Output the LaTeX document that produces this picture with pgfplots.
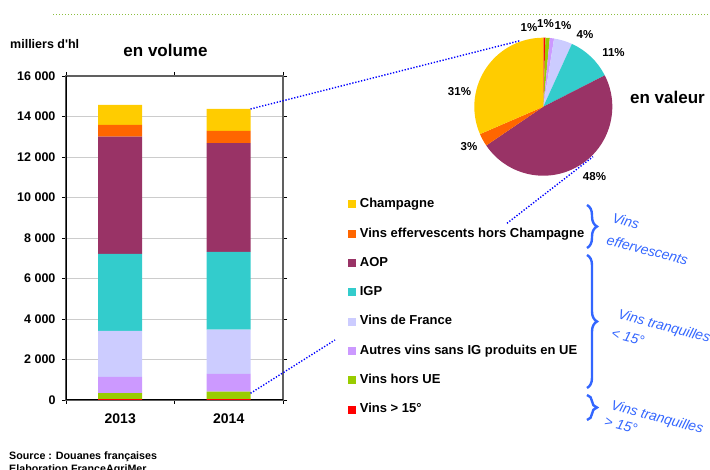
\documentclass[border=0pt]{standalone}
\usepackage{pgfplots}
\pgfplotsset{compat=1.18}
\usepackage{fontspec}
\setmainfont{Liberation Sans}
\usetikzlibrary{decorations.pathreplacing}
\definecolor{cChamp}{HTML}{FFCC00}
\definecolor{cEff}{HTML}{FF6600}
\definecolor{cAOP}{HTML}{993366}
\definecolor{cIGP}{HTML}{33CCCC}
\definecolor{cVdF}{HTML}{CCCCFF}
\definecolor{cAutres}{HTML}{CC99FF}
\definecolor{cHors}{HTML}{99CC00}
\definecolor{cQuinze}{HTML}{FF0000}
\definecolor{cBrace}{HTML}{3366FF}
\definecolor{cTopLine}{HTML}{8CBF3F}
\begin{document}
\begin{tikzpicture}[x=1pt,y=1pt]
\path[use as bounding box] (0,0) rectangle (710,470);
\draw[cTopLine, line width=1pt, dash pattern=on 1pt off 2pt] (53,455.3) -- (710,455.3);

\begin{axis}[
  at={(66pt,70pt)}, anchor=south west,
  scale only axis, width=217pt, height=324pt,
  xmin=-0.5, xmax=1.5, ymin=0, ymax=16000,
  ybar stacked, bar width=44pt,
  xtick={-0.5,0.5,1.5}, xticklabels={2013,2014}, x tick label as interval,
  ytick={0,2000,...,16000}, scaled y ticks=false,
  ymajorgrids, grid style={gray!40, line width=0.9pt},
  axis line style={draw=gray!75!black, line width=1.6pt},
  tick align=outside, major tick length=4pt,
  tick style={black, line width=0.9pt},
  /pgf/number format/.cd, 1000 sep={\ }, assume math mode=true, /pgfplots/.cd,
  yticklabel style={font=\bfseries\fontsize{12.5}{14}\selectfont, xshift=-3pt},
  xticklabel style={font=\bfseries\fontsize{14}{16}\selectfont, yshift=-6pt},
  reverse legend,
  legend cell align=left,
  legend style={at={(1.298,0.6265)}, anchor=north west, draw=none, fill=none,
    font=\bfseries\fontsize{13}{15}\selectfont, row sep=14.8pt, inner sep=0pt,
    nodes={inner sep=1pt, text height=9.5pt, text depth=3pt},
    /tikz/every odd column/.append style={column sep=3pt}},
  legend image code/.code={\fill[#1] (0pt,-4pt) rectangle (8pt,4pt);},
]
\addplot[fill=cQuinze, draw=none] coordinates {(0,40) (1,40)};
\addlegendentry{Vins > 15°}
\addplot[fill=cHors, draw=none] coordinates {(0,300) (1,370)};
\addlegendentry{Vins hors UE}
\addplot[fill=cAutres, draw=none] coordinates {(0,800) (1,875)};
\addlegendentry{Autres vins sans IG produits en UE}
\addplot[fill=cVdF, draw=none] coordinates {(0,2270) (1,2190)};
\addlegendentry{Vins de France}
\addplot[fill=cIGP, draw=none] coordinates {(0,3800) (1,3835)};
\addlegendentry{IGP}
\addplot[fill=cAOP, draw=none] coordinates {(0,5790) (1,5380)};
\addlegendentry{AOP}
\addplot[fill=cEff, draw=none] coordinates {(0,580) (1,595)};
\addlegendentry{Vins effervescents hors Champagne}
\addplot[fill=cChamp, draw=none] coordinates {(0,990) (1,1085)};
\addlegendentry{Champagne}
\draw[black, line width=1.2pt] (rel axis cs:0,1) -- (rel axis cs:0,0) -- (rel axis cs:1,0);
\end{axis}

% pie (en valeur), shares in percent
\begin{axis}[at={(543.3pt,363.3pt)}, anchor=center, hide axis, scale only axis,
  width=138pt, height=138pt, xmin=-1, xmax=1, ymin=-1, ymax=1]
\fill[cQuinze] (axis cs:0,0) -- ++({90-3.6*0}:69pt) arc[start angle={90-3.6*0}, end angle={90-3.6*0.5}, radius=69pt] -- cycle;
\fill[cHors] (axis cs:0,0) -- ++({90-3.6*0.5}:69pt) arc[start angle={90-3.6*0.5}, end angle={90-3.6*1.5}, radius=69pt] -- cycle;
\fill[cAutres] (axis cs:0,0) -- ++({90-3.6*1.5}:69pt) arc[start angle={90-3.6*1.5}, end angle={90-3.6*2.5}, radius=69pt] -- cycle;
\fill[cVdF] (axis cs:0,0) -- ++({90-3.6*2.5}:69pt) arc[start angle={90-3.6*2.5}, end angle={90-3.6*6.8}, radius=69pt] -- cycle;
\fill[cIGP] (axis cs:0,0) -- ++({90-3.6*6.8}:69pt) arc[start angle={90-3.6*6.8}, end angle={90-3.6*17.5}, radius=69pt] -- cycle;
\fill[cAOP] (axis cs:0,0) -- ++({90-3.6*17.5}:69pt) arc[start angle={90-3.6*17.5}, end angle={90-3.6*65.5}, radius=69pt] -- cycle;
\fill[cEff] (axis cs:0,0) -- ++({90-3.6*65.5}:69pt) arc[start angle={90-3.6*65.5}, end angle={90-3.6*68.5}, radius=69pt] -- cycle;
\fill[cChamp] (axis cs:0,0) -- ++({90-3.6*68.5}:69pt) arc[start angle={90-3.6*68.5}, end angle={90-3.6*100}, radius=69pt] -- cycle;
\end{axis}

% texts
\node[anchor=west, font=\bfseries\fontsize{12.5}{14}\selectfont, inner sep=0pt] at (10,426) {milliers d\textquotesingle hl};
\node[font=\bfseries\fontsize{17}{19}\selectfont, inner sep=0pt] at (165.5,420) {en volume};
\node[font=\bfseries\fontsize{17}{19}\selectfont, inner sep=0pt] at (667.5,373) {en valeur};
\begin{scope}[every node/.style={font=\bfseries\fontsize{11.5}{13}\selectfont, inner sep=0pt}]
\node at (529,442) {1\%};
\node at (545.5,446) {1\%};
\node at (563,444) {1\%};
\node at (585,435) {4\%};
\node at (613.5,417) {11\%};
\node at (459.5,378) {31\%};
\node at (469,323) {3\%};
\node at (594.5,293) {48\%};
\end{scope}
\node[anchor=base west, font=\bfseries\fontsize{10.7}{12}\selectfont, inner sep=0pt] at (9,10.5) {Source : Douanes françaises};
\node[anchor=base west, font=\bfseries\fontsize{10.7}{12}\selectfont, inner sep=0pt] at (9,-2.5) {Elaboration FranceAgriMer};

% dotted connectors
\draw[blue, line width=1.4pt, dash pattern=on 1.3pt off 1.7pt] (250.5,361) -- (520,429.3);
\draw[blue, line width=1.4pt, dash pattern=on 1.3pt off 1.7pt] (250.5,76.7) -- (335,130);
\draw[blue, line width=1.4pt, dash pattern=on 1.3pt off 1.7pt] (507,246.7) -- (593,313.3);

% braces
\draw[cBrace, line width=2.4pt, decorate, decoration={brace, amplitude=10pt}] (587,265) -- (587,222);
\draw[cBrace, line width=2.4pt, decorate, decoration={brace, amplitude=10pt}] (587,215) -- (587,82);
\draw[cBrace, line width=2.4pt, decorate, decoration={brace, amplitude=10pt}] (587,75) -- (587,50);
\begin{scope}[every node/.style={text=cBrace, font=\itshape\fontsize{14}{16}\selectfont, inner sep=0pt, rotate=-15}]
\node at (626,249) {Vins};
\node at (647.5,220) {effervescents};
\node at (664,143) {Vins tranquilles};
\node at (628,133) {< 15°};
\node at (657,52) {Vins tranquilles};
\node at (621,45) {> 15°};
\end{scope}
\end{tikzpicture}
\end{document}
